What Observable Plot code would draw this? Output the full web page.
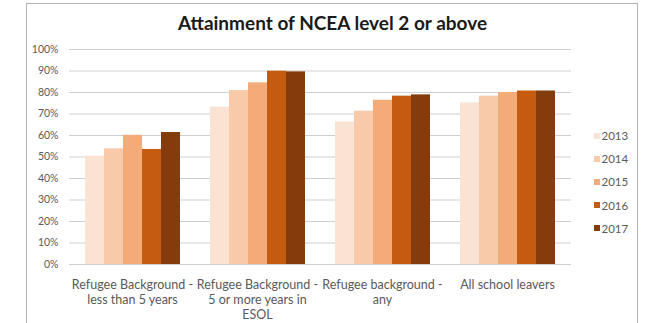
<!DOCTYPE html>
<html>
<head>
<meta charset="utf-8">
<script src="https://cdn.jsdelivr.net/npm/d3@7"></script>
<script src="https://cdn.jsdelivr.net/npm/@observablehq/plot@0.6"></script>
<style>
  html, body { margin: 0; padding: 0; background: #fff; }
  #chart { position: relative; width: 650px; height: 323px; overflow: hidden; font-family: Lato, "Open Sans", sans-serif; }
  #frame { position: absolute; left: 26px; top: 3px; width: 612px; height: 340px; border: 1px solid #b3b3b3; box-sizing: border-box; }
  #title { position: absolute; left: 26px; width: 613px; top: 13px; text-align: center; font-weight: 700; font-size: 19px; line-height: 1; color: #1a1a1a; }
  .layer { position: absolute; left: 0; top: 0; }
  #legend { position: absolute; left: 594px; top: 124px; font-size: 11.5px; color: #595959; }
  .row { height: 23.2px; display: flex; align-items: center; }
  .sw { width: 6px; height: 6px; margin-right: 1.5px; }
</style>
</head>
<body>
<div id="chart">
  <div id="frame"></div>
  <div id="title"></div>
</div>
<script>
// Attainment of NCEA level 2 or above, by group and leaving year (percent)
const chartTitle = "Attainment of NCEA level 2 or above";
const categories = [
  "Refugee Background -\nless than 5 years",
  "Refugee Background -\n5 or more years in\nESOL",
  "Refugee background -\nany",
  "All school leavers"
];
const years = ["2013", "2014", "2015", "2016", "2017"];
const v2013 = [50.4, 73.2, 66.3, 75.2];
const v2014 = [53.8, 80.9, 71.3, 78.3];
const v2015 = [60.1, 84.5, 76.4, 80.0];
const v2016 = [53.5, 89.9, 78.3, 80.7];
const v2017 = [61.4, 89.6, 78.9, 80.7];
const yearColors = ["#fbe3d4", "#f8caa9", "#f3ab7a", "#c55a11", "#843c0c"];
const yTicks = [0, 10, 20, 30, 40, 50, 60, 70, 80, 90, 100];

const series = [v2013, v2014, v2015, v2016, v2017];
const rows = years.flatMap((year, i) =>
  categories.map((category, j) => ({category, year, value: series[i][j]}))
);

const W = 650, H = 323;
const margins = {marginLeft: 69, marginRight: 79, marginTop: 49, marginBottom: 59};
const font = "Lato, 'Open Sans', sans-serif";

// Background layer: horizontal gridlines and the percentage axis
const grid = Plot.plot({
  width: W, height: H, ...margins,
  style: {background: "transparent", color: "#595959", fontFamily: font},
  x: {axis: null},
  y: {domain: [0, 100], axis: null},
  marks: [
    Plot.ruleY(yTicks, {stroke: "#cfcfcf", strokeWidth: 1}),
    Plot.axisY(yTicks, {tickSize: 0, tickPadding: 11, tickFormat: d => d + "%", fontSize: 10.5, label: null})
  ]
});

// Foreground layer: clustered bars, one facet per group
const bars = Plot.plot({
  width: W, height: H, ...margins,
  style: {background: "transparent", color: "#595959", fontFamily: font},
  fx: {domain: categories, paddingInner: 0.23, paddingOuter: 0.115, label: null},
  x: {domain: years, padding: 0, axis: null},
  y: {domain: [0, 100], axis: null},
  color: {domain: years, range: yearColors},
  marks: [
    Plot.barY(rows, {fx: "category", x: "year", y: "value", fill: "year"}),
    Plot.axisFx({anchor: "bottom", tickSize: 0, tickPadding: 14, fontSize: 12.5, lineHeight: 1.2, label: null})
  ]
});

const chart = document.getElementById("chart");
for (const svg of [grid, bars]) {
  svg.classList.add("layer");
  chart.appendChild(svg);
}
document.getElementById("title").textContent = chartTitle;

// Vertical legend of years
const legend = document.createElement("div");
legend.id = "legend";
years.forEach((year, i) => {
  const row = document.createElement("div");
  row.className = "row";
  const sw = document.createElement("span");
  sw.className = "sw";
  sw.style.background = yearColors[i];
  const label = document.createElement("span");
  label.textContent = year;
  row.append(sw, label);
  legend.appendChild(row);
});
chart.appendChild(legend);
</script>
</body>
</html>
